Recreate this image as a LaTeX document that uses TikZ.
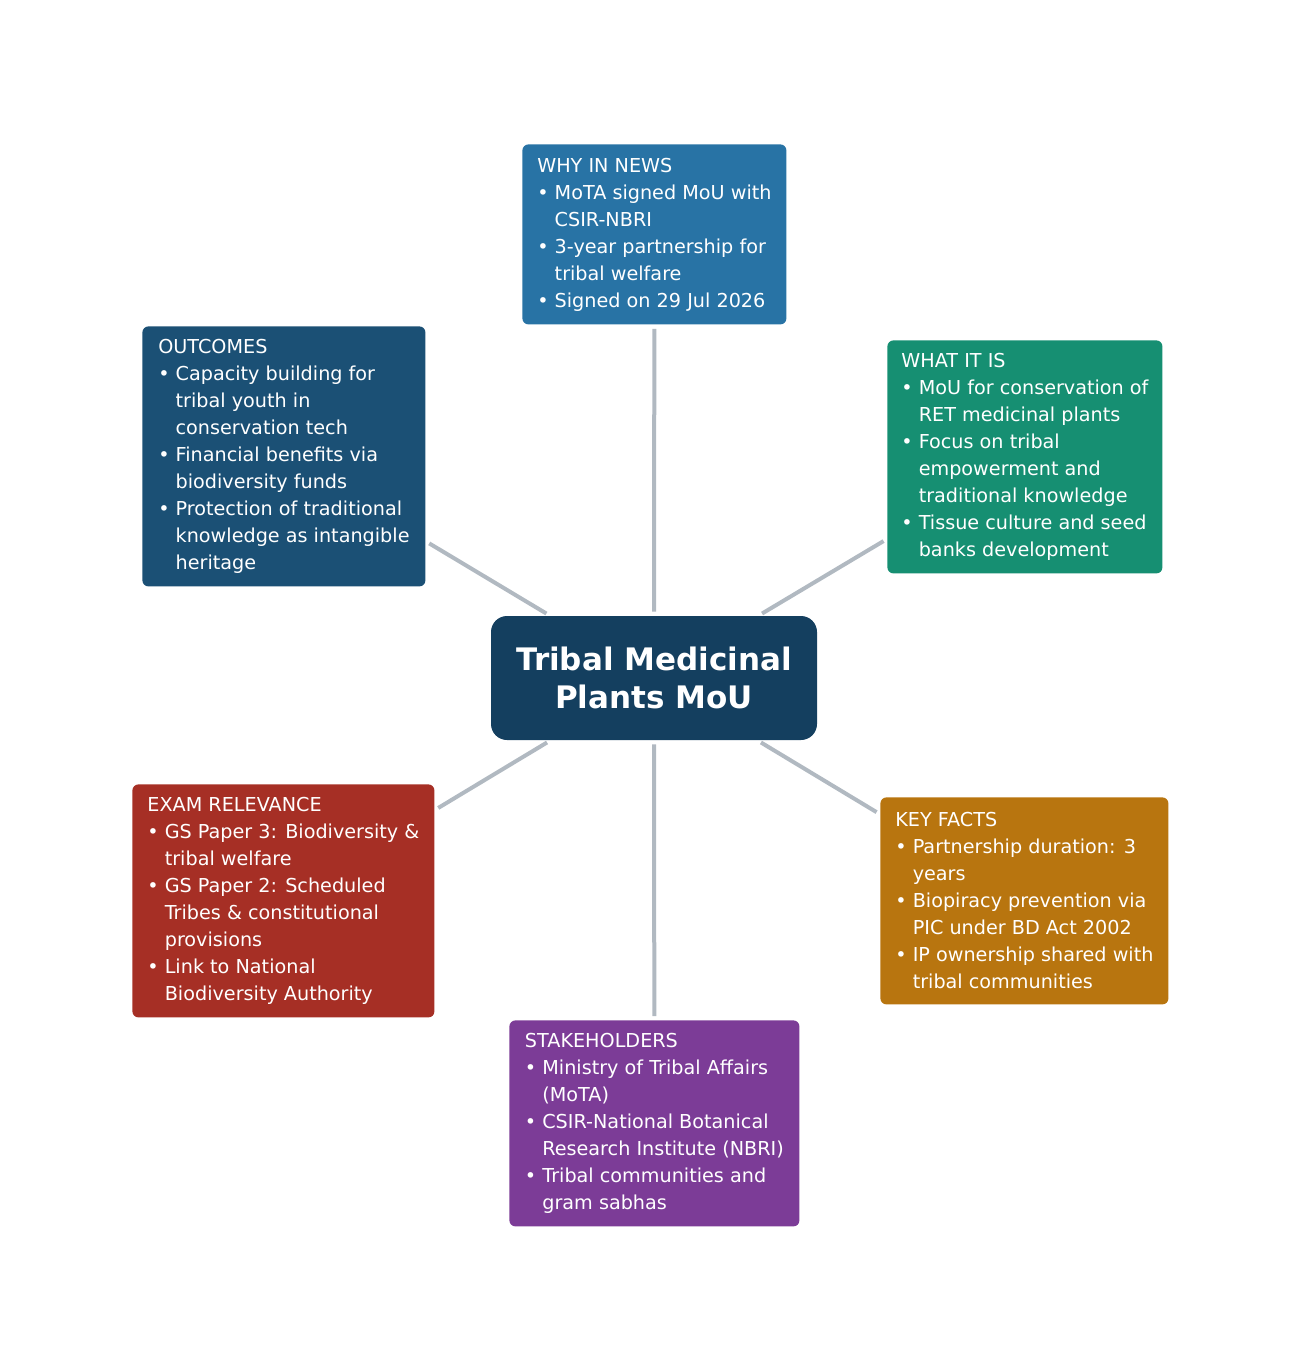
\documentclass[tikz,border=0pt]{standalone}
\usepackage{fontspec}
\setmainfont{DejaVu Sans}
\usetikzlibrary{positioning}
\definecolor{cnews}{HTML}{2873A5}
\definecolor{cwhat}{HTML}{168F72}
\definecolor{cout}{HTML}{1B5075}
\definecolor{ccore}{HTML}{143F5F}
\definecolor{cexam}{HTML}{A62F25}
\definecolor{cfact}{HTML}{B8750F}
\definecolor{cstake}{HTML}{7C3C97}
\definecolor{clink}{HTML}{B1B9C1}
\newcommand{\ind}{\phantom{• }}
\tikzset{
  card/.style={fill=#1, rounded corners=3pt, text=white, anchor=north west,
    align=left, font=\fontsize{9.6}{13.5}\selectfont, inner xsep=5pt, inner ysep=6pt},
  link/.style={draw=clink, line width=2pt, shorten <=2pt, shorten >=2pt}
}
\begin{document}
\begin{tikzpicture}[x=0.5pt,y=-0.5pt]
  \useasboundingbox (0,0) rectangle (1308,1358);

  \node[fill=ccore, rounded corners=8pt, text=white, align=center,
    minimum width=163pt, minimum height=62pt,
    font=\bfseries\fontsize{15.5}{19}\selectfont] (core) at (654,678)
    {Tribal Medicinal\\Plants MoU};

  \node[card=cnews, minimum width=132pt, minimum height=90pt] (news) at (522,144)
    {WHY IN NEWS\\• MoTA signed MoU with\\\ind CSIR-NBRI\\• 3-year partnership for\\\ind tribal welfare\\• Signed on 29 Jul 2026};
  \node[card=cwhat, minimum width=137.5pt, minimum height=116.5pt] (what) at (887,340)
    {WHAT IT IS\\• MoU for conservation of\\\ind RET medicinal plants\\• Focus on tribal\\\ind empowerment and\\\ind traditional knowledge\\• Tissue culture and seed\\\ind banks development};
  \node[card=cout, minimum width=141.5pt, minimum height=130pt] (outc) at (142,326)
    {OUTCOMES\\• Capacity building for\\\ind tribal youth in\\\ind conservation tech\\• Financial benefits via\\\ind biodiversity funds\\• Protection of traditional\\\ind knowledge as intangible\\\ind heritage};
  \node[card=cexam, minimum width=151pt, minimum height=116.5pt] (exam) at (132,784)
    {EXAM RELEVANCE\\• GS Paper 3: Biodiversity \&\\\ind tribal welfare\\• GS Paper 2: Scheduled\\\ind Tribes \& constitutional\\\ind provisions\\• Link to National\\\ind Biodiversity Authority};
  \node[card=cfact, minimum width=144pt, minimum height=103.5pt] (fact) at (880,797)
    {KEY FACTS\\• Partnership duration: 3\\\ind years\\• Biopiracy prevention via\\\ind PIC under BD Act 2002\\• IP ownership shared with\\\ind tribal communities};
  \node[card=cstake, minimum width=145pt, minimum height=103pt] (stake) at (509,1020)
    {STAKEHOLDERS\\• Ministry of Tribal Affairs\\\ind (MoTA)\\• CSIR-National Botanical\\\ind Research Institute (NBRI)\\• Tribal communities and\\\ind gram sabhas};

  \draw[link] (core) -- (news);
  \draw[link] (core) -- (what);
  \draw[link] (core) -- (outc);
  \draw[link] (core) -- (exam);
  \draw[link] (core) -- (fact);
  \draw[link] (core) -- (stake);
\end{tikzpicture}
\end{document}
